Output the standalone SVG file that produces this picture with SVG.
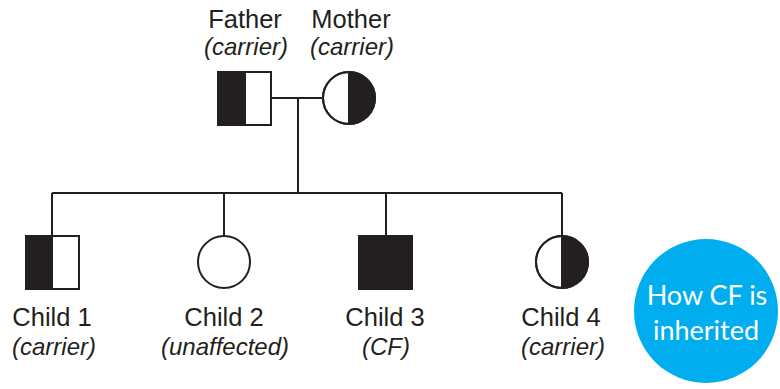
<svg xmlns="http://www.w3.org/2000/svg" width="780" height="389" viewBox="0 0 780 389">
<style>
.ln{stroke:#231f20;stroke-width:2;fill:none}
.sym{stroke:#231f20;stroke-width:2;fill:#fff}
.blk{fill:#231f20;stroke:none}
.nm{font-family:"Liberation Sans",Arial,sans-serif;font-size:25.5px;fill:#231f20;text-anchor:middle}
.st{font-family:"Liberation Sans",Arial,sans-serif;font-size:24px;font-style:italic;fill:#231f20;text-anchor:middle}
.bt{font-family:Lato,"Open Sans",sans-serif;font-size:27px;fill:#fff;text-anchor:middle}
</style>
<rect width="780" height="389" fill="#fff"/>
<g id="connectors">
<path class="ln" d="M271 98H323M298 98V193M52 193H562M52 193V236M224 193V236M386 193V236M562 193V236"/>
</g>
<g id="father">
<rect class="sym" x="218" y="72" width="53" height="53"/>
<rect class="blk" x="218" y="72" width="27" height="53"/>
<path class="ln" d="M245 72V125"/>
<rect class="ln" x="218" y="72" width="53" height="53"/>
<text class="nm" x="245" y="28">Father</text>
<text class="st" x="246" y="55">(carrier)</text>
</g>
<g id="mother">
<circle class="sym" cx="349" cy="98" r="26"/>
<path class="blk" d="M349 72A26 26 0 0 1 349 124Z"/>
<path class="ln" d="M349 72V124"/>
<circle class="ln" cx="349" cy="98" r="26"/>
<text class="nm" x="351" y="28">Mother</text>
<text class="st" x="352" y="55">(carrier)</text>
</g>
<g id="child1">
<rect class="sym" x="26" y="236" width="53" height="53"/>
<rect class="blk" x="26" y="236" width="26" height="53"/>
<path class="ln" d="M52 236V289"/>
<rect class="ln" x="26" y="236" width="53" height="53"/>
<text class="nm" x="52" y="326">Child 1</text>
<text class="st" x="54" y="355">(carrier)</text>
</g>
<g id="child2">
<circle class="sym" cx="224" cy="262" r="26"/>
<text class="nm" x="224" y="326">Child 2</text>
<text class="st" x="225" y="355">(unaffected)</text>
</g>
<g id="child3">
<rect class="blk" x="359" y="236" width="53" height="53"/>
<rect class="ln" x="359" y="236" width="53" height="53"/>
<text class="nm" x="385" y="326">Child 3</text>
<text class="st" x="386" y="355">(CF)</text>
</g>
<g id="child4">
<circle class="sym" cx="562" cy="262" r="26"/>
<path class="blk" d="M562 236A26 26 0 0 1 562 288Z"/>
<path class="ln" d="M562 236V288"/>
<circle class="ln" cx="562" cy="262" r="26"/>
<text class="nm" x="561" y="326">Child 4</text>
<text class="st" x="563" y="355">(carrier)</text>
</g>
<g id="badge">
<circle cx="706" cy="311" r="72" fill="#00aeef"/>
<text class="bt" x="707" y="305">How CF is</text>
<text class="bt" x="706" y="340">inherited</text>
</g>
</svg>
